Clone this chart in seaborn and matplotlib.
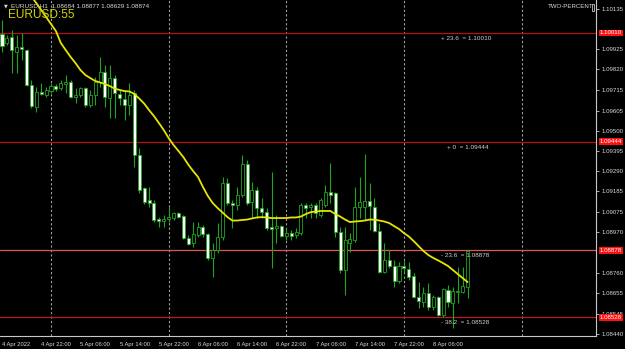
import numpy as np
import pandas as pd
import matplotlib
matplotlib.use("Agg")
import matplotlib.pyplot as plt
import matplotlib.transforms as mtransforms
import seaborn as sns

sns.set_theme(style="dark")
plt.rcParams['font.family'] = ['Liberation Sans', 'DejaVu Sans']

# ---------------- data (EURUSD H1, from 4 Apr 2022 14:00) ----------------
opens = [1.10005, 1.09958, 1.09989, 1.09911, 1.09937, 1.09921, 1.09739, 1.09624, 1.09702, 1.09687,
         1.09707, 1.09733, 1.09723, 1.09744, 1.09754, 1.09676, 1.09687, 1.09723, 1.09634, 1.09687,
         1.09754, 1.09806, 1.09671, 1.09775, 1.09692, 1.09666, 1.09634, 1.09697, 1.09374, 1.09202,
         1.09139, 1.09123, 1.09040, 1.09029, 1.09040, 1.09045, 1.09071, 1.09056, 1.08941, 1.08915,
         1.08956, 1.08998, 1.08962, 1.08837, 1.08878, 1.08946, 1.09228, 1.09123, 1.09113, 1.09165,
         1.09327, 1.09129, 1.09191, 1.09097, 1.09076, 1.08998, 1.08993, 1.09003, 1.08951, 1.08967,
         1.08956, 1.08967, 1.09113, 1.09102, 1.09113, 1.09061, 1.09113, 1.09181, 1.09175, 1.08972,
         1.08774, 1.08915, 1.08930, 1.09102, 1.09102, 1.09134, 1.09102, 1.08977, 1.08764, 1.08826,
         1.08795, 1.08717, 1.08795, 1.08779, 1.08743, 1.08633, 1.08607, 1.08654, 1.08581, 1.08633,
         1.08539, 1.08670, 1.08602, 1.08659, 1.08659, 1.08684]
highs = [1.10078, 1.10000, 1.10026, 1.10000, 1.10010, 1.09926, 1.09765, 1.09728, 1.09749, 1.09728,
         1.09749, 1.09744, 1.09765, 1.09791, 1.09765, 1.09723, 1.09728, 1.09728, 1.09713, 1.09780,
         1.09885, 1.09843, 1.09843, 1.09791, 1.09713, 1.09713, 1.09749, 1.09713, 1.09410, 1.09207,
         1.09207, 1.09139, 1.09050, 1.09061, 1.09102, 1.09076, 1.09076, 1.09061, 1.08956, 1.09024,
         1.09024, 1.09009, 1.08967, 1.08915, 1.09019, 1.09259, 1.09254, 1.09139, 1.09207, 1.09374,
         1.09348, 1.09233, 1.09207, 1.09149, 1.09097, 1.09285, 1.09061, 1.09009, 1.08993, 1.08983,
         1.08993, 1.09123, 1.09123, 1.09123, 1.09123, 1.09149, 1.09217, 1.09332, 1.09181, 1.08998,
         1.08998, 1.08967, 1.09207, 1.09259, 1.09379, 1.09228, 1.09149, 1.09019, 1.08915, 1.08878,
         1.08826, 1.08816, 1.08826, 1.08816, 1.08758, 1.08711, 1.08685, 1.08706, 1.08644, 1.08638,
         1.08680, 1.08696, 1.08685, 1.08790, 1.08790, 1.08877]
lows = [1.09911, 1.09947, 1.09801, 1.09801, 1.09869, 1.09733, 1.09619, 1.09598, 1.09687, 1.09676,
        1.09697, 1.09707, 1.09713, 1.09697, 1.09671, 1.09645, 1.09676, 1.09624, 1.09624, 1.09634,
        1.09728, 1.09624, 1.09567, 1.09567, 1.09634, 1.09556, 1.09582, 1.09311, 1.09175, 1.09118,
        1.09102, 1.09024, 1.08998, 1.08998, 1.09024, 1.09035, 1.09045, 1.08936, 1.08904, 1.08894,
        1.08946, 1.08946, 1.08826, 1.08737, 1.08863, 1.08930, 1.09113, 1.08993, 1.09087, 1.09155,
        1.09113, 1.09045, 1.09045, 1.09045, 1.08983, 1.08784, 1.08915, 1.08946, 1.08930, 1.08930,
        1.08941, 1.08956, 1.09045, 1.09045, 1.09045, 1.09050, 1.09102, 1.09123, 1.08946, 1.08758,
        1.08644, 1.08868, 1.08920, 1.09045, 1.09035, 1.08983, 1.08972, 1.08758, 1.08758, 1.08784,
        1.08685, 1.08706, 1.08764, 1.08722, 1.08628, 1.08576, 1.08581, 1.08565, 1.08565, 1.08534,
        1.08529, 1.08581, 1.08471, 1.08602, 1.08654, 1.08629]
closes = [1.09942, 1.09984, 1.09921, 1.09937, 1.09926, 1.09739, 1.09629, 1.09702, 1.09692, 1.09713,
          1.09733, 1.09718, 1.09749, 1.09754, 1.09676, 1.09687, 1.09723, 1.09634, 1.09687, 1.09754,
          1.09806, 1.09676, 1.09775, 1.09697, 1.09671, 1.09634, 1.09687, 1.09374, 1.09191, 1.09129,
          1.09123, 1.09035, 1.09029, 1.09040, 1.09050, 1.09071, 1.09050, 1.08941, 1.08910, 1.08962,
          1.08998, 1.08962, 1.08837, 1.08878, 1.08946, 1.09228, 1.09123, 1.09113, 1.09165, 1.09327,
          1.09123, 1.09191, 1.09097, 1.09076, 1.08993, 1.08988, 1.09003, 1.08951, 1.08967, 1.08951,
          1.08972, 1.09113, 1.09097, 1.09113, 1.09071, 1.09139, 1.09181, 1.09165, 1.08972, 1.08774,
          1.08930, 1.08936, 1.09102, 1.09129, 1.09134, 1.09108, 1.08977, 1.08764, 1.08826, 1.08795,
          1.08717, 1.08795, 1.08784, 1.08737, 1.08633, 1.08612, 1.08654, 1.08581, 1.08633, 1.08539,
          1.08675, 1.08607, 1.08664, 1.08664, 1.08690, 1.08874]

# moving average values, starting at bar 5
ma_first_bar = 5
ma_values = [1.10234, 1.10200,
             1.10166, 1.10130, 1.10093, 1.10057, 1.10020, 1.09958, 1.09921, 1.09885, 1.09853, 1.09817,
             1.09791, 1.09775, 1.09760, 1.09752, 1.09744, 1.09733, 1.09720, 1.09713, 1.09707, 1.09705,
             1.09692, 1.09668, 1.09642, 1.09608, 1.09577, 1.09541, 1.09504, 1.09462, 1.09426, 1.09395,
             1.09363, 1.09324, 1.09290, 1.09259, 1.09207, 1.09160, 1.09123, 1.09097, 1.09074, 1.09050,
             1.09032, 1.09032, 1.09035, 1.09037, 1.09043, 1.09048, 1.09050, 1.09048, 1.09045, 1.09045,
             1.09045, 1.09045, 1.09048, 1.09048, 1.09053, 1.09066, 1.09076, 1.09079, 1.09082, 1.09082,
             1.09082, 1.09066, 1.09053, 1.09037, 1.09024, 1.09027, 1.09029, 1.09032, 1.09037, 1.09037,
             1.09032, 1.09027, 1.09019, 1.09003, 1.08988, 1.08967, 1.08949, 1.08925, 1.08899, 1.08873,
             1.08852, 1.08837, 1.08824, 1.08810, 1.08795, 1.08774, 1.08753, 1.08732, 1.08711]

fib_levels = [1.10010, 1.09444, 1.08878, 1.08528]
fib_texts = ["+ 23.6  = 1.10010", "+ 0  = 1.09444", "- 23.6  = 1.08878", "- 38.2  = 1.08528"]
fib_text_x = [0.740, 0.750, 0.740, 0.740]
fib_colors = ["#b01414", "#b01414", "#d85a5a", "#c01818"]

xtick_bars = [0, 8, 16, 24, 32, 40, 48, 56, 64, 72, 80, 88]
xtick_labels = ["4 Apr 2022", "4 Apr 22:00", "5 Apr 06:00", "5 Apr 14:00", "5 Apr 22:00",
                "6 Apr 06:00", "6 Apr 14:00", "6 Apr 22:00", "7 Apr 06:00", "7 Apr 14:00",
                "7 Apr 22:00", "8 Apr 06:00"]
# price scale labels visible in the reference (1.10030 and 1.08865 sit under the red boxes)
ytick_labels = ["1.10135", "1.09925", "1.09820", "1.09715", "1.09605", "1.09500",
                "1.09395", "1.09290", "1.09185", "1.09075", "1.08970", "1.08760",
                "1.08655", "1.08545", "1.08440"]
day_separators = [10, 34, 58, 82, 106]

# ---------------- figure ----------------
GREEN = "#1fa51f"
BG = "black"
fig = plt.figure(figsize=(6.25, 3.49), dpi=100, facecolor=BG)
ax = fig.add_axes([0, 13 / 349, 596 / 625, 336 / 349])
ax.set_facecolor(BG)
ax.grid(False)

df = pd.DataFrame({"open": opens, "high": highs, "low": lows, "close": closes})
df["bar"] = np.arange(len(df))
bull = df["close"] >= df["open"]
body_bottom = np.minimum(df["open"], df["close"])
body_h = np.maximum(np.abs(df["close"] - df["open"]), 0.000015)

# day separators
for b in day_separators:
    ax.axvline(b, color="#a0a0a0", lw=0.8, ls=(0, (2, 2)), zorder=1)

# fib lines
for lvl, c in zip(fib_levels, fib_colors):
    ax.axhline(lvl, color=c, lw=0.9, zorder=2)

# candles
ax.vlines(df["bar"], df["low"], df["high"], color=GREEN, lw=0.8, zorder=3)
ax.bar(df["bar"], body_h, bottom=body_bottom, width=0.62,
       color=np.where(bull, BG, "white"), edgecolor=GREEN, linewidth=0.6, zorder=4)

# moving average
ma_df = pd.DataFrame({"bar": np.arange(ma_first_bar, ma_first_bar + len(ma_values)),
                      "ma": ma_values})
sns.lineplot(data=ma_df, x="bar", y="ma", ax=ax, color="#e8e400", lw=1.3, zorder=5, legend=False)

ax.set_xlim(-0.41, 121.2)
ax.set_ylim(1.08430, 1.10182)

# axes styling
for s in ["left", "top"]:
    ax.spines[s].set_visible(False)
for s in ["right", "bottom"]:
    ax.spines[s].set_color("#c8c8c8")
    ax.spines[s].set_linewidth(0.8)

ax.yaxis.tick_right()
ax.set_yticks([float(t) for t in ytick_labels])
ax.set_yticklabels(ytick_labels)
ax.set_xticks(xtick_bars)
ax.set_xticklabels(xtick_labels, ha="left")
ax.tick_params(axis="y", colors="#c8c8c8", labelcolor="#d8d8d8", labelsize=4.4,
               length=2.5, width=0.6, pad=1.5, direction="out")
ax.tick_params(axis="x", colors="#c8c8c8", labelcolor="#d8d8d8", labelsize=4.2,
               length=2.5, width=0.6, pad=1.5, direction="out")
ax.set_xlabel("")
ax.set_ylabel("")

# fib texts
for lvl, t, xf in zip(fib_levels, fib_texts, fib_text_x):
    ax.annotate(t, xy=(xf, lvl), xycoords=("axes fraction", "data"), xytext=(0, -2.2),
                textcoords="offset points", va="top", ha="left", color="#d0d0d0",
                fontsize=4.6, zorder=6)

# red price labels on the axis
trans = mtransforms.blended_transform_factory(ax.transAxes, ax.transData)
for lvl in fib_levels:
    ax.text(1.006, lvl, f"{lvl:.5f}", transform=trans, color="white", fontsize=4.4,
            va="center", ha="left", clip_on=False, zorder=10,
            bbox=dict(facecolor="#ff1010", edgecolor="none", pad=0.7))

# header texts
fig.text(4 / 625, 1 - 6 / 349, "\u25bc", color="#d8d8d8", fontsize=3.5, va="center", ha="left",
         family=["DejaVu Sans"])
fig.text(11 / 625, 1 - 6 / 349, "EURUSD,H1  1.08684 1.08877 1.08629 1.08874", color="#d8d8d8",
         fontsize=4.6, va="center", ha="left")
fig.text(8 / 625, 1 - 15 / 349, "EURUSD:55", color="#d2d200", fontsize=8.6, va="center", ha="left")
fig.text(548 / 625, 1 - 7 / 349, "TWO-PERCENT", color="#d8d8d8", fontsize=4.4, va="center", ha="left")
fig.patches.append(plt.Rectangle((591.5 / 625, 1 - 10.5 / 349), 2.5 / 625, 7 / 349,
                                 transform=fig.transFigure, fill=False, edgecolor="#c8c8c8",
                                 lw=0.6))

fig.savefig("out.png", dpi=100, facecolor=BG)
